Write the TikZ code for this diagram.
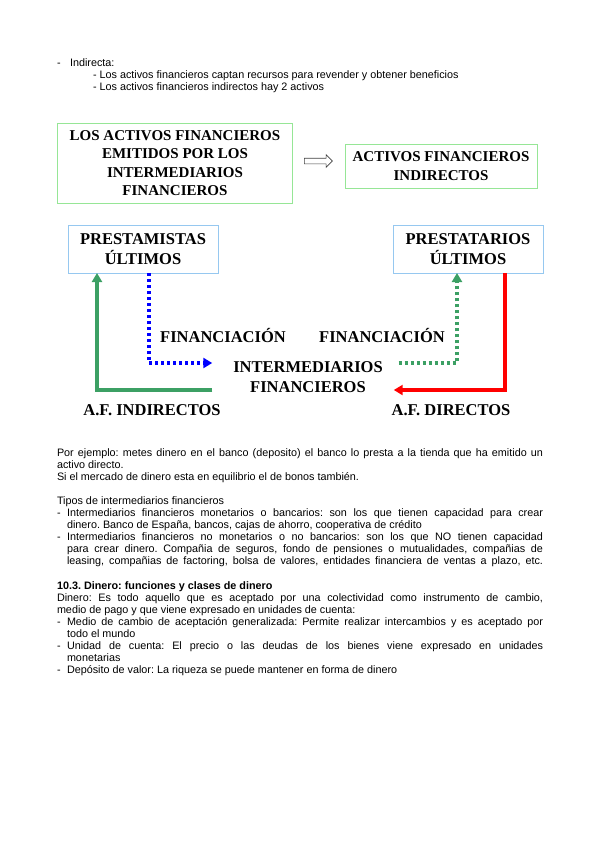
\documentclass[tikz,border=0pt]{standalone}
\usepackage{fontspec}
\setmainfont{Liberation Sans}
\newfontfamily\titfont{Liberation Serif}
\usetikzlibrary{arrows.meta,shapes.arrows}
\definecolor{verdeborde}{RGB}{150,230,150}
\definecolor{azulborde}{RGB}{150,200,240}
\definecolor{verdeflecha}{RGB}{60,160,100}
\definecolor{rojoflecha}{RGB}{255,0,0}
\definecolor{azulflecha}{RGB}{0,0,255}
\newcommand{\lineajust}[2]{\makebox[#1][s]{#2}}
\frenchspacing

\begin{document}
\begin{tikzpicture}[x=1bp,y=-1bp,inner sep=0pt,outer sep=0pt,
  txt/.style={anchor=base west,font=\fontsize{10.8bp}{12bp}\selectfont},
  negrita/.style={anchor=base west,font=\fontsize{10.8bp}{12bp}\selectfont\bfseries},
  cajaverde/.style={draw=verdeborde,line width=1bp,align=center,font=\titfont\bfseries\fontsize{15bp}{18.5bp}\selectfont},
  cajaazul/.style={draw=azulborde,line width=1bp,align=center,minimum width=150bp,minimum height=48bp,font=\titfont\bfseries\fontsize{16.5bp}{20bp}\selectfont},
  etiq/.style={align=center,font=\titfont\bfseries\fontsize{16.5bp}{20bp}\selectfont},
  flujo/.style={line width=3.2bp,-{Triangle[length=9bp,width=10bp]}},
  punteado/.style={dash pattern=on 3bp off 3bp},
  flechahueca/.style={single arrow,draw=black!75,line width=0.6bp,minimum height=28bp,single arrow head extend=3.5bp,inner ysep=2.5bp,inner xsep=0pt}]
  \useasboundingbox (0,0) rectangle (599,848);
  % encabezado
  \node[txt] (g1) at (57,66.5) {-};
  \node[txt] (indirecta) at (70,66.5) {Indirecta:};
  \node[txt] (los1) at (93,78.3) {- Los activos financieros captan recursos para revender y obtener beneficios};
  \node[txt] (los2) at (93,90) {- Los activos financieros indirectos hay 2 activos};
  % primer esquema
  \node[cajaverde,minimum width=234bp,minimum height=80bp] (emitidos) at (175,163) {LOS ACTIVOS FINANCIEROS\\EMITIDOS POR LOS\\INTERMEDIARIOS\\FINANCIEROS};
  \node[cajaverde,minimum width=192bp,minimum height=44bp] (indirectos) at (441,166) {ACTIVOS FINANCIEROS\\INDIRECTOS};
  \node[flechahueca] (flecha) at (317,161) {};
  % segundo esquema
  \node[cajaazul] (prestamistas) at (143,249) {PRESTAMISTAS\\ÚLTIMOS};
  \node[cajaazul] (prestatarios) at (468,249) {PRESTATARIOS\\ÚLTIMOS};
  \node[etiq,inner xsep=21bp] (inter) at (308,377) {INTERMEDIARIOS\\FINANCIEROS};
  \node[etiq] (finan1) at (223,335) {FINANCIACIÓN};
  \node[etiq] (finan2) at (382,335) {FINANCIACIÓN};
  \node[etiq] (afind) at (152,410) {A.F. INDIRECTOS};
  \node[etiq] (afdir) at (451,410) {A.F. DIRECTOS};
  \draw[flujo,punteado,azulflecha] ([xshift=6bp]prestamistas.south) |- ([yshift=14bp]inter.west);
  \draw[flujo,verdeflecha] ([yshift=-13bp]inter.west) -| ([xshift=-46bp]prestamistas.south);
  \draw[flujo,punteado,verdeflecha] ([xshift=-5bp,yshift=14bp]inter.east) -| ([xshift=-11bp]prestatarios.south);
  \draw[flujo,rojoflecha] ([xshift=37bp]prestatarios.south) |- ([xshift=-10bp,yshift=-13bp]inter.east);
  % texto
  \node[txt] (p1) at (57,456.3) {\lineajust{486bp}{Por ejemplo: metes dinero en el banco (deposito) el banco lo presta a la tienda que ha emitido un}};
  \node[txt] (p2) at (57,468.3) {activo directo.};
  \node[txt] (p3) at (57,480.3) {Si el mercado de dinero esta en equilibrio el de bonos también.};
  \node[txt] (p4) at (57,504.3) {Tipos de intermediarios financieros};
  \node[txt] (g2) at (57,516.3) {-};
  \node[txt] (p5) at (67,516.3) {\lineajust{476bp}{Intermediarios financieros monetarios o bancarios: son los que tienen capacidad para crear}};
  \node[txt] (p6) at (67,528.3) {dinero. Banco de España, bancos, cajas de ahorro, cooperativa de crédito};
  \node[txt] (g3) at (57,540.3) {-};
  \node[txt] (p7) at (67,540.3) {\lineajust{476bp}{Intermediarios financieros no monetarios o no bancarios: son los que NO tienen capacidad}};
  \node[txt] (p8) at (67,552.3) {\lineajust{476bp}{para crear dinero. Compañia de seguros, fondo de pensiones o mutualidades, compañias de}};
  \node[txt] (p9) at (67,564.3) {\lineajust{476bp}{leasing, compañias de factoring, bolsa de valores, entidades financiera de ventas a plazo, etc.}};
  \node[negrita] (seccion) at (57,589.5) {10.3. Dinero: funciones y clases de dinero};
  \node[txt] (d1) at (57,601.5) {\lineajust{486bp}{Dinero: Es todo aquello que es aceptado por una colectividad como instrumento de cambio,}};
  \node[txt] (d2) at (57,613.5) {medio de pago y que viene expresado en unidades de cuenta:};
  \node[txt] (g4) at (57,625.5) {-};
  \node[txt] (d3) at (67,625.5) {\lineajust{476bp}{Medio de cambio de aceptación generalizada: Permite realizar intercambios y es aceptado por}};
  \node[txt] (d4) at (67,637.5) {todo el mundo};
  \node[txt] (g5) at (57,649.5) {-};
  \node[txt] (d5) at (67,649.5) {\lineajust{476bp}{Unidad de cuenta: El precio o las deudas de los bienes viene expresado en unidades}};
  \node[txt] (d6) at (67,661.5) {monetarias};
  \node[txt] (g6) at (57,673.5) {-};
  \node[txt] (d7) at (67,673.5) {Depósito de valor: La riqueza se puede mantener en forma de dinero};
\end{tikzpicture}
\end{document}
